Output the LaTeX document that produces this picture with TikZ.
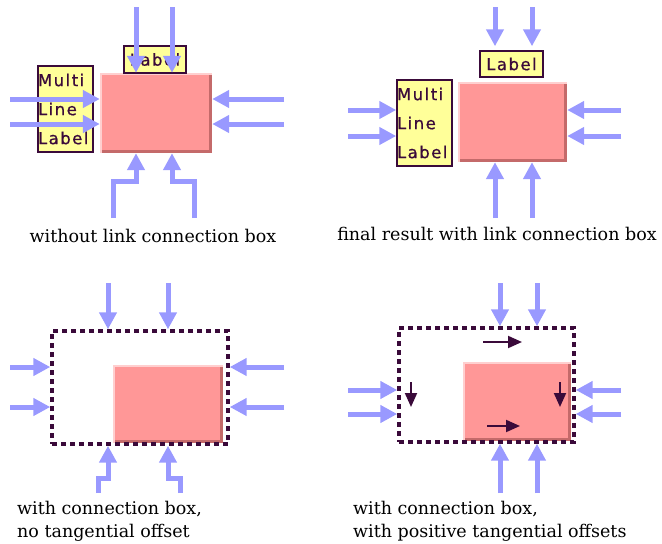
\documentclass[tikz,border=0pt]{standalone}
\usepackage{fontspec}
\setmainfont{DejaVu Serif}
\newfontfamily\lblfont[LetterSpace=9,FakeBold=0.6]{DejaVu Sans}
\usetikzlibrary{arrows.meta}

\definecolor{linkblue}{HTML}{9999FF}
\definecolor{boxpink}{HTML}{FF9797}
\definecolor{boxlight}{HTML}{FFCFCF}
\definecolor{boxdark}{HTML}{C46A6A}
\definecolor{labelyellow}{HTML}{FFFF99}
\definecolor{plum}{HTML}{3A0A3A}

% light top/left and dark bottom/right rims of a raised box
\newcommand\boxbevel[1]{%
  \fill[boxlight] (#1.north west) rectangle ([yshift=-2.5pt]#1.north east);
  \fill[boxlight] (#1.north west) rectangle ([xshift=2.5pt]#1.south west);
  \fill[boxdark] ([xshift=2.5pt]#1.south west) rectangle ([yshift=3pt]#1.south east);
  \fill[boxdark] ([yshift=-2.5pt]#1.north east) rectangle ([xshift=-3pt]#1.south east);
}

\tikzset{
  x=1pt, y=-1pt,
  block/.style={rectangle, fill=boxpink, inner sep=0pt},
  lbl/.style={rectangle, draw=plum, line width=1.5pt, fill=labelyellow,
    text=plum, font=\lblfont\fontsize{16.5}{29}\selectfont, inner sep=0pt},
  multilbl/.style={lbl, align=left, text width=55pt},
  cbox/.style={rectangle, draw=plum, line width=3.4pt,
    dash pattern=on 5pt off 4pt, inner sep=0pt},
  link/.style={draw=linkblue, line width=5pt,
    -{Triangle[length=17pt,width=17pt]}},
  offs/.style={draw=plum, line width=2pt,
    -{Triangle[length=14pt,width=12pt]}},
  caption/.style={font=\fontsize{17.5}{23}\selectfont, inner sep=0pt}
}

\begin{document}
\begin{tikzpicture}
\useasboundingbox (0,0) rectangle (662,544);

% ---------- without link connection box ----------
\node[block, minimum width=112pt, minimum height=80pt] (b1) at (156,113) {};
\boxbevel{b1}
\node[lbl, minimum width=62pt, minimum height=27pt] (L1) at (155,59.5) {Label};
\node[multilbl, minimum height=86pt] (M1) at (65.5,109) {Multi\\Line\\Label};
\coordinate (t11) at (136,7);  \coordinate (t12) at (172,7);
\coordinate (l11) at (10,99);  \coordinate (l12) at (10,124);
\coordinate (r11) at (284,99); \coordinate (r12) at (284,124);
\coordinate (s11) at (113,218); \coordinate (e11) at (136,181);
\coordinate (s12) at (194,218); \coordinate (e12) at (172,181);
\draw[link] (t11) -- (b1.north -| t11);
\draw[link] (t12) -- (b1.north -| t12);
\draw[link] (l11) -- (b1.west |- l11);
\draw[link] (l12) -- (b1.west |- l12);
\draw[link] (r11) -- (b1.east |- r11);
\draw[link] (r12) -- (b1.east |- r12);
\draw[link] (s11) |- (e11) -- (b1.south -| e11);
\draw[link] (s12) |- (e12) -- (b1.south -| e12);
\node[caption] (c1) at (153,236) {without link connection box};

% ---------- final result with link connection box ----------
\node[block, minimum width=109pt, minimum height=80pt] (b2) at (512.5,122) {};
\boxbevel{b2}
\node[lbl, minimum width=63pt, minimum height=26pt] (L2) at (511.5,64) {Label};
\node[multilbl, minimum height=86pt] (M2) at (424.5,123) {Multi\\Line\\Label};
\coordinate (t21) at (495,7);   \coordinate (t22) at (532,7);
\coordinate (l21) at (348,110); \coordinate (l22) at (348,136);
\coordinate (r21) at (621,110); \coordinate (r22) at (621,136);
\coordinate (s21) at (495,218); \coordinate (s22) at (532,218);
\draw[link, shorten >=4pt] (t21) -- (L2.north -| t21);
\draw[link, shorten >=4pt] (t22) -- (L2.north -| t22);
\draw[link] (l21) -- (M2.west |- l21);
\draw[link] (l22) -- (M2.west |- l22);
\draw[link] (r21) -- (b2.east |- r21);
\draw[link] (r22) -- (b2.east |- r22);
\draw[link] (s21) -- (b2.south -| s21);
\draw[link] (s22) -- (b2.south -| s22);
\node[caption] (c2) at (497,234) {final result with link connection box};

% ---------- connection box, no tangential offset ----------
\node[block, minimum width=110pt, minimum height=78pt] (b3) at (168,404) {};
\boxbevel{b3}
\node[cbox, minimum width=176pt, minimum height=113pt] (cb3) at (140,387.5) {};
\coordinate (t31) at (108,283); \coordinate (t32) at (168,283);
\coordinate (l31) at (10,367);  \coordinate (l32) at (10,407);
\coordinate (r31) at (284,367); \coordinate (r32) at (284,407);
\coordinate (s31) at (98,493);  \coordinate (e31) at (108,478);
\coordinate (s32) at (180,493); \coordinate (e32) at (168,478);
\draw[link] (t31) -- (cb3.north -| t31);
\draw[link] (t32) -- (cb3.north -| t32);
\draw[link] (l31) -- (cb3.west |- l31);
\draw[link] (l32) -- (cb3.west |- l32);
\draw[link] (r31) -- (cb3.east |- r31);
\draw[link] (r32) -- (cb3.east |- r32);
\draw[link] (s31) |- (e31) -- (cb3.south -| e31);
\draw[link] (s32) |- (e32) -- (cb3.south -| e32);
\node[caption, anchor=west, align=left] (c3) at (17,521)
  {with connection box,\\no tangential offset};

% ---------- connection box, positive tangential offsets ----------
\node[block, minimum width=108pt, minimum height=79pt] (b4) at (517,401.5) {};
\boxbevel{b4}
\node[cbox, minimum width=175pt, minimum height=114pt] (cb4) at (486.5,385) {};
\coordinate (t41) at (500,283); \coordinate (t42) at (537,283);
\coordinate (l41) at (348,390); \coordinate (l42) at (348,414);
\coordinate (r41) at (621,390); \coordinate (r42) at (621,414);
\coordinate (s41) at (500,493); \coordinate (s42) at (537,493);
\draw[link] (t41) -- (cb4.north -| t41);
\draw[link] (t42) -- (cb4.north -| t42);
\draw[link] (l41) -- (cb4.west |- l41);
\draw[link] (l42) -- (cb4.west |- l42);
\draw[link] (r41) -- (cb4.east |- r41);
\draw[link] (r42) -- (cb4.east |- r42);
\draw[link] (s41) -- (cb4.south -| s41);
\draw[link] (s42) -- (cb4.south -| s42);
% offset directions along the sides
\coordinate (ot0) at (483,342); \coordinate (ot1) at (522,342);
\coordinate (ob0) at (487,426); \coordinate (ob1) at (520,426);
\coordinate (ol0) at (411,382); \coordinate (ol1) at (411,407);
\coordinate (or0) at (560,382); \coordinate (or1) at (560,407);
\draw[offs] (ot0) -- (ot1);
\draw[offs] (ob0) -- (ob1);
\draw[offs] (ol0) -- (ol1);
\draw[offs] (or0) -- (or1);
\node[caption, anchor=west, align=left] (c4) at (353,521)
  {with connection box,\\with positive tangential offsets};
\end{tikzpicture}
\end{document}
